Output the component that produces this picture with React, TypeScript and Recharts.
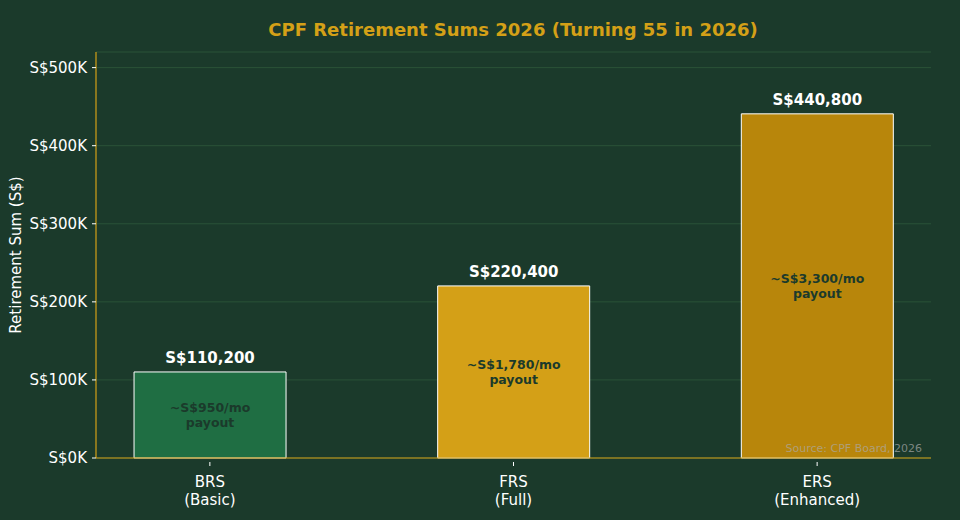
import * as React from 'react';
import { BarChart, Bar, XAxis, YAxis, CartesianGrid, Cell, LabelList } from 'recharts';

const categories = ['BRS', 'FRS', 'ERS'];
const subLabels = ['(Basic)', '(Full)', '(Enhanced)'];
const sums = [110200, 220400, 440800];
const payouts = ['~S$950/mo', '~S$1,780/mo', '~S$3,300/mo'];
const yTicks = [0, 100000, 200000, 300000, 400000, 500000];

const colors = ['#1f6e43', '#d4a017', '#b8860b'];
const BG = '#1b3a2b';
const GOLD = '#d4a017';
const FONT = '"DejaVu Sans", sans-serif';

const data = categories.map((c, i) => ({ x: i, name: c, value: sums[i] }));

const fmtMoney = (v: number) => 'S$' + v.toLocaleString('en-US');

function XTick(props: any) {
  const { x, y, payload } = props;
  const i = payload.value as number;
  return (
    <g transform={`translate(${x},${y})`}>
      <line x1={0} y1={-4} x2={0} y2={0} stroke="#fff" />
      <text textAnchor="middle" fill="#fff" fontSize={15} fontFamily={FONT}>
        <tspan x={0} dy={21}>{categories[i]}</tspan>
        <tspan x={0} dy={18}>{subLabels[i]}</tspan>
      </text>
    </g>
  );
}

function TopLabel(props: any) {
  const { x, y, width, value } = props;
  return (
    <text x={x + width / 2} y={y - 9} textAnchor="middle" fill="#fff" fontSize={15}
      fontWeight="bold" fontFamily={FONT}>
      {fmtMoney(value)}
    </text>
  );
}

function InnerLabel(props: any) {
  const { x, y, width, height, index } = props;
  const cx = x + width / 2;
  const cy = y + height / 2;
  return (
    <text textAnchor="middle" fill={BG} fontSize={12.5} fontWeight="bold" fontFamily={FONT}>
      <tspan x={cx} y={cy - 3}>{payouts[index]}</tspan>
      <tspan x={cx} y={cy + 12}>payout</tspan>
    </text>
  );
}

export default function App() {
  return (
    <div style={{ position: 'fixed', left: 0, top: 0, width: 960, height: 520, background: BG }}>
      <BarChart width={960} height={520} data={data}
        margin={{ top: 52, right: 29, bottom: 0, left: 0 }}>
        <CartesianGrid vertical={false} stroke="#2a5238" strokeWidth={1} />
        <XAxis dataKey="x" type="number" domain={[-0.375, 2.375]} ticks={[0, 1, 2]}
          height={62} axisLine={{ stroke: GOLD, strokeWidth: 1.2 }} tickLine={false}
          tick={<XTick />} interval={0} />
        <YAxis type="number" domain={[0, 520000]} ticks={yTicks} width={96}
          axisLine={{ stroke: GOLD, strokeWidth: 1.2 }} tickLine={{ stroke: '#fff' }}
          tickSize={4} tickMargin={5}
          tick={{ fill: '#fff', fontSize: 15, fontFamily: FONT }}
          tickFormatter={(v: number) => `S$${v / 1000}K`}
          label={{ value: 'Retirement Sum (S$)', angle: -90, position: 'insideLeft', dx: 11,
            style: { fill: '#fff', fontSize: 15, fontFamily: FONT, textAnchor: 'middle' } }} />
        <Bar dataKey="value" barSize={152} stroke="#fff" strokeWidth={1} isAnimationActive={false}>
          {data.map((_, i) => (
            <Cell key={`c-${i}`} fill={colors[i]} />
          ))}
          <LabelList dataKey="value" content={<TopLabel />} />
          <LabelList dataKey="value" content={<InnerLabel />} />
        </Bar>
        <text x={513} y={36} textAnchor="middle" fill={GOLD} fontSize={18} fontWeight="bold"
          fontFamily={FONT}>
          CPF Retirement Sums 2026 (Turning 55 in 2026)
        </text>
      </BarChart>
      <svg width={960} height={520}
        style={{ position: 'absolute', left: 0, top: 0, pointerEvents: 'none' }}>
        <text x={922} y={452} textAnchor="end" fill="#aaaaaa" fillOpacity={0.7} fontSize={11}
          fontFamily={FONT}>
          Source: CPF Board, 2026
        </text>
      </svg>
    </div>
  );
}
